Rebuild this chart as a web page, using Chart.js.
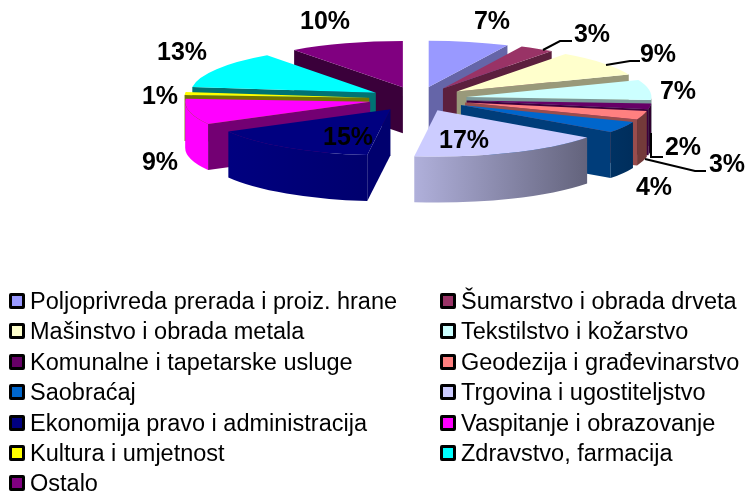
<!DOCTYPE html>
<html>
<head>
<meta charset="utf-8">
<title>Struktura</title>
<script src="https://cdn.jsdelivr.net/npm/chart.js@4/dist/chart.umd.min.js"></script>
<style>
    body { margin: 0; background: #fff; font-family: "Liberation Sans", Arial, sans-serif; }
    #wrap { position: relative; width: 746px; height: 493px; overflow: hidden; }
    #pie { position: absolute; left: 0; top: 0; }
    .item { position: absolute; font-size: 23.5px; line-height: 26px; white-space: nowrap; color: #000; }
    .box { position: absolute; left: -21px; top: 5px; width: 10px; height: 10px; border: 3px solid #000; border-radius: 2px; }
</style>
</head>
<body>
<div id="wrap">
    <canvas id="pie" width="746" height="493"></canvas>
    <div id="legend"></div>
</div>
<script>
const categories = [
    'Poljoprivreda prerada i proiz. hrane', 'Šumarstvo i obrada drveta',
    'Mašinstvo i obrada metala', 'Tekstilstvo i kožarstvo',
    'Komunalne i tapetarske usluge', 'Geodezija i građevinarstvo',
    'Saobraćaj', 'Trgovina i ugostiteljstvo',
    'Ekonomija pravo i administracija', 'Vaspitanje i obrazovanje',
    'Kultura i umjetnost', 'Zdravstvo, farmacija',
    'Ostalo'
];
const values = [7, 3, 9, 7, 2, 3, 4, 17, 15, 9, 1, 13, 10];
const colors = [
    [153, 153, 255], [153, 51, 102], [255, 255, 204], [204, 255, 255],
    [102, 0, 102], [255, 128, 128], [0, 102, 204], [204, 204, 255],
    [0, 0, 128], [255, 0, 255], [255, 255, 0], [0, 255, 255],
    [128, 0, 128]
];

// where the percent labels sit, same order as values
const labelX = [492, 592, 658, 678, 683, 727, 654, 464, 348, 160, 160, 182, 325];
const labelY = [22, 35, 55, 92, 148, 165, 188, 141, 138, 163, 97, 53, 22];
// leader lines from slice to label
const leaders = [
    [[543, 50], [560, 41], [572, 41]],
    [[606, 65], [630, 61], [640, 61]],
    [[651, 133], [651, 157], [663, 157]],
    [[645, 159], [695, 171], [706, 171]]
];

// fake 3D view
const centerX = 418;
const centerY = 99;
const squash = 0.25;
const depth = 46;
const pieRadius = 185;
const explode = 49;

function rgb(c, k) {
    return `rgb(${Math.round(c[0] * k)}, ${Math.round(c[1] * k)}, ${Math.round(c[2] * k)})`;
}

// shade of the outer wall, darker towards the right
function wallShade(a) {
    const deg = a * 180 / Math.PI;
    return Math.min(1, Math.max(0.45, 0.45 + (deg - 30) * 0.55 / 90));
}

// shade of a cut face, a is the canvas angle of the edge
function cutShade(a) {
    const side = Math.cos(a) < 0 ? 0.55 : 0.4;
    return 1 - side * Math.min(1, 2 * Math.abs(Math.cos(a)));
}

function drawSides(ctx, arc, color) {
    const { startAngle, endAngle, outerRadius } = arc;
    const mid = (startAngle + endAngle) / 2;
    const x = centerX + Math.cos(mid) * explode;
    const y = centerY + Math.sin(mid) * explode * squash;
    const px = a => x + Math.cos(a) * outerRadius;
    const py = a => y + Math.sin(a) * outerRadius * squash;

    // cut faces, only those turned to the viewer
    const faces = [];
    if (Math.cos(startAngle) < 0) faces.push(startAngle);
    if (Math.cos(endAngle) > 0) faces.push(endAngle);
    faces.forEach(a => {
        ctx.fillStyle = rgb(color, cutShade(a));
        ctx.beginPath();
        ctx.moveTo(x, y);
        ctx.lineTo(px(a), py(a));
        ctx.lineTo(px(a), py(a) + depth);
        ctx.lineTo(x, y + depth);
        ctx.closePath();
        ctx.fill();
    });

    // outer wall, front half only
    const a0 = Math.max(startAngle, 0);
    const a1 = Math.min(endAngle, Math.PI);
    if (a1 > a0) {
        const grad = ctx.createLinearGradient(px(a0), 0, px(a1), 0);
        grad.addColorStop(0, rgb(color, wallShade(a0)));
        grad.addColorStop(1, rgb(color, wallShade(a1)));
        ctx.fillStyle = grad;
        ctx.beginPath();
        ctx.ellipse(x, y, outerRadius, outerRadius * squash, 0, a0, a1);
        ctx.ellipse(x, y + depth, outerRadius, outerRadius * squash, 0, a1, a0, true);
        ctx.closePath();
        ctx.fill();
    }
}

const pie3d = {
    id: 'pie3d',
    beforeDatasetsDraw(chart) {
        const ctx = chart.ctx;
        const arcs = chart.getDatasetMeta(0).data.map((arc, i) => ({ arc, i }));
        // back slices first
        arcs.sort((p, q) => Math.sin((p.arc.startAngle + p.arc.endAngle) / 2) - Math.sin((q.arc.startAngle + q.arc.endAngle) / 2));
        arcs.forEach(({ arc, i }) => {
            const mid = (arc.startAngle + arc.endAngle) / 2;
            drawSides(ctx, arc, colors[i]);
            ctx.save();
            ctx.translate(centerX, centerY);
            ctx.scale(1, squash);
            // the explode is done here, the offset option of the arc also grows small slices
            ctx.translate(Math.cos(mid) * explode - arc.x, Math.sin(mid) * explode - arc.y);
            arc.draw(ctx);
            ctx.restore();
        });
        return false;
    },
    // afterDatasetsDraw is skipped when the hook above returns false
    afterDraw(chart) {
        const ctx = chart.ctx;
        ctx.save();
        ctx.strokeStyle = '#000';
        ctx.lineWidth = 2;
        leaders.forEach(line => {
            ctx.beginPath();
            line.forEach((p, i) => i ? ctx.lineTo(p[0], p[1]) : ctx.moveTo(p[0], p[1]));
            ctx.stroke();
        });
        ctx.fillStyle = '#000';
        ctx.font = 'bold 25px "Liberation Sans", Arial, sans-serif';
        ctx.textAlign = 'center';
        ctx.textBaseline = 'middle';
        values.forEach((v, i) => ctx.fillText(v + '%', labelX[i], labelY[i]));
        ctx.restore();
    }
};

new Chart(document.getElementById('pie'), {
    type: 'pie',
    data: {
        labels: categories,
        datasets: [{
            data: values,
            backgroundColor: colors.map(c => rgb(c, 1)),
            borderWidth: 0
        }]
    },
    options: {
        responsive: false,
        animation: false,
        radius: pieRadius,
        plugins: {
            legend: { display: false },
            tooltip: { enabled: false }
        }
    },
    plugins: [pie3d]
});

// two column legend, filled row by row
const legend = document.getElementById('legend');
categories.forEach((name, i) => {
    const row = Math.floor(i / 2);
    const item = document.createElement('div');
    item.className = 'item';
    item.style.left = (i % 2 ? 461 : 30) + 'px';
    item.style.top = (288 + row * 30.4) + 'px';
    item.textContent = name;
    const box = document.createElement('span');
    box.className = 'box';
    box.style.background = rgb(colors[i], 1);
    item.appendChild(box);
    legend.appendChild(item);
});
</script>
</body>
</html>
